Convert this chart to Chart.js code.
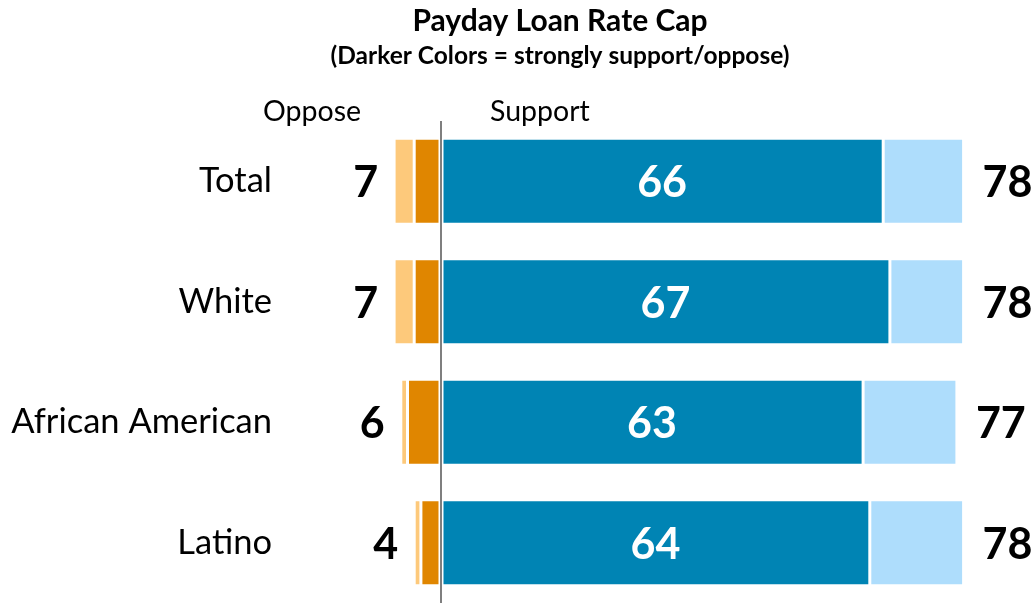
<!DOCTYPE html>
<html>
<head>
<meta charset="utf-8">
<script src="https://cdn.jsdelivr.net/npm/chart.js@4.4.1/dist/chart.umd.min.js"></script>
<style>
  html, body { margin: 0; padding: 0; background: #fff; }
  #wrap { width: 1032px; height: 603px; }
</style>
</head>
<body>
<div id="wrap"><canvas id="myChart" width="1032" height="603"></canvas></div>
<script>
const categories = ["Total", "White", "African American", "Latino"];
const strongOppose = [4, 4, 5, 3];
const someOppose = [3, 3, 1, 1];
const opposeTotal = [7, 7, 6, 4];
const strongSupport = [66, 67, 63, 64];
const someSupport = [12, 11, 14, 14];
const supportTotal = [78, 78, 77, 78];

const FONT = "Lato, 'Open Sans', sans-serif";

// labels, title and headers drawn on the canvas
const labelPlugin = {
    id: 'labels',
    afterDatasetsDraw(chart) {
        const ctx = chart.ctx;
        const x = chart.scales.x;
        const y = chart.scales.y;
        ctx.save();
        ctx.textBaseline = 'middle';
        categories.forEach((c, i) => {
            const yc = y.getPixelForValue(i);
            ctx.font = "34.5px " + FONT;
            ctx.fillStyle = '#000';
            ctx.textAlign = 'right';
            ctx.fillText(c, 272, yc);
            ctx.font = "bold 43px " + FONT;
            ctx.fillText(opposeTotal[i], x.getPixelForValue(-opposeTotal[i]) - 16, yc + 2);
            ctx.textAlign = 'left';
            ctx.fillText(supportTotal[i], x.getPixelForValue(supportTotal[i]) + 19, yc + 2);
            ctx.fillStyle = '#fff';
            ctx.textAlign = 'center';
            ctx.fillText(strongSupport[i], (x.getPixelForValue(0) + x.getPixelForValue(strongSupport[i])) / 2, yc + 2);
        });
        ctx.fillStyle = '#000';
        ctx.textAlign = 'center';
        ctx.font = "bold 30px " + FONT;
        ctx.fillText("Payday Loan Rate Cap", 560, 21);
        ctx.font = "bold 24.5px " + FONT;
        ctx.fillText("(Darker Colors = strongly support/oppose)", 560, 56);
        ctx.font = "28.5px " + FONT;
        ctx.textAlign = 'left';
        ctx.fillText("Oppose", 263, 112);
        ctx.fillText("Support", 490, 112);
        ctx.restore();
    }
};

function bar(label, data, color) {
    return {
        label: label,
        data: data,
        backgroundColor: color,
        borderColor: '#fff',
        borderWidth: 1.5,
        borderSkipped: false,
        barPercentage: 0.715,
        categoryPercentage: 1
    };
}

const chart = new Chart(document.getElementById('myChart'), {
    type: 'bar',
    data: {
        labels: categories,
        datasets: [
            bar('Strongly oppose', strongOppose.map(v => -v), '#E08600'),
            bar('Somewhat oppose', someOppose.map(v => -v), '#FDC97B'),
            bar('Strongly support', strongSupport, '#0084B4'),
            bar('Somewhat support', someSupport, '#AEDDFC')
        ]
    },
    options: {
        indexAxis: 'y',
        responsive: false,
        animation: false,
        layout: { padding: { top: 121, right: 55, bottom: 0, left: 0 } },
        plugins: { legend: { display: false }, tooltip: { enabled: false } },
        scales: {
            x: {
                stacked: true,
                min: -10,
                max: 80,
                ticks: { display: false },
                border: { display: false },
                grid: {
                    drawTicks: false,
                    lineWidth: 2,
                    color: ctx => ctx.tick && ctx.tick.value === 0 ? '#7f7f7f' : 'transparent'
                },
                afterFit(scale) { scale.height = 0; }
            },
            y: {
                stacked: true,
                border: { display: false },
                grid: { display: false },
                ticks: { display: false },
                afterFit(scale) { scale.width = 374; }
            }
        }
    },
    plugins: [labelPlugin]
});
</script>
</body>
</html>
